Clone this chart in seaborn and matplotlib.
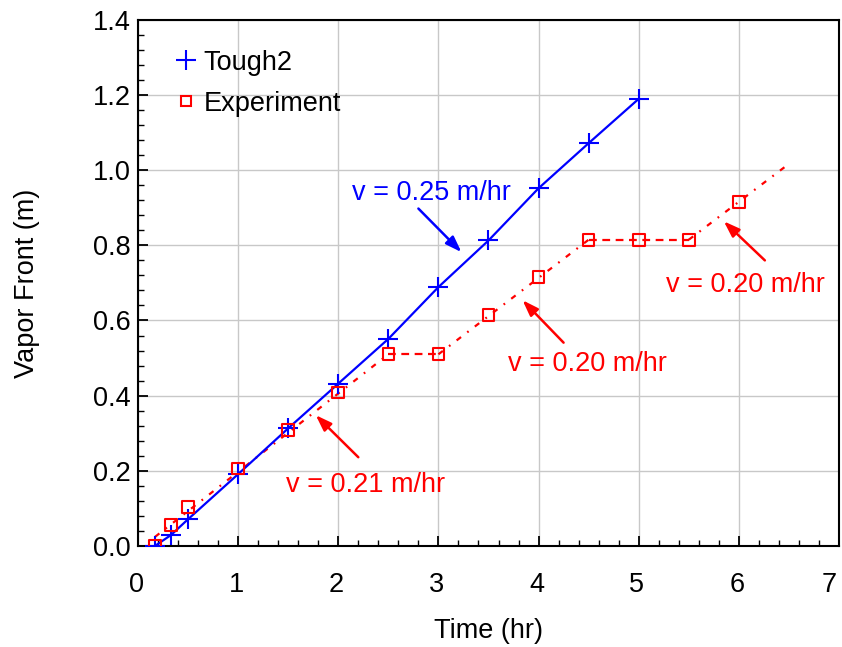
import matplotlib
matplotlib.use("Agg")
import matplotlib.pyplot as plt
from matplotlib.lines import Line2D
from matplotlib.ticker import MultipleLocator
import matplotlib.transforms as mtransforms
import seaborn as sns
import pandas as pd

# ---- data ----
tough_t = [0.17, 0.33, 0.5, 1.0, 1.5, 2.0, 2.5, 3.0, 3.5, 4.0, 4.5, 5.0]
tough_v = [0.0, 0.029, 0.071, 0.191, 0.313, 0.432, 0.551, 0.689, 0.813, 0.952, 1.072, 1.19]

exp_t = [0.17, 0.33, 0.5, 1.0, 1.5, 2.0, 2.5, 3.0, 3.5, 4.0, 4.5, 5.0, 5.5, 6.0]
exp_v = [0.0, 0.055, 0.103, 0.206, 0.308, 0.408, 0.510, 0.510, 0.615, 0.716, 0.815, 0.815, 0.815, 0.915]

# experiment trend segments: sloped (dash-dot) and plateau (dashed)
slope_segs = [([0.17, 2.5], [0.024, 0.510]),
              ([3.0, 4.5], [0.510, 0.815]),
              ([5.5, 6.5], [0.815, 1.017])]
flat_segs = [([2.5, 3.0], [0.510, 0.510]),
             ([4.5, 5.5], [0.815, 0.815])]

# annotations: text, text position, arrow tail, arrow head, colour
notes = [("v = 0.25 m/hr", (2.93, 0.94), (2.80, 0.898), (3.23, 0.782), "#0000ff"),
         ("v = 0.21 m/hr", (2.27, 0.162), (2.20, 0.236), (1.775, 0.348), "#ff0000"),
         ("v = 0.20 m/hr", (4.49, 0.483), (4.25, 0.541), (3.84, 0.654), "#ff0000"),
         ("v = 0.20 m/hr", (6.07, 0.694), (6.26, 0.760), (5.85, 0.864), "#ff0000")]

x_ticks = [0, 1, 2, 3, 4, 5, 6, 7]
y_ticks = [0.0, 0.2, 0.4, 0.6, 0.8, 1.0, 1.2, 1.4]

sns.set_theme(style="white")
plt.rcParams['font.family'] = ['Liberation Sans', 'DejaVu Sans']
plt.rcParams['text.color'] = 'black'
plt.rcParams['axes.labelcolor'] = 'black'
plt.rcParams['xtick.color'] = 'black'
plt.rcParams['ytick.color'] = 'black'

BLUE = "#0000ff"
RED = "#ff0000"
FS = 19.5

fig = plt.figure(figsize=(8.42, 6.47), dpi=100)
ax = fig.add_axes([0.1639, 0.1563, 0.8325, 0.8128])

ax.grid(True, which="major", color="#c8c8c8", linewidth=1.0)
ax.set_axisbelow(True)

df_t = pd.DataFrame({"t": tough_t, "v": tough_v})
df_e = pd.DataFrame({"t": exp_t, "v": exp_v})

sns.lineplot(data=df_t, x="t", y="v", ax=ax, color=BLUE, linewidth=1.6,
             marker="+", markersize=14, markeredgewidth=1.5, markeredgecolor=BLUE,
             estimator=None, sort=False, zorder=3)

for xs, ys in slope_segs:
    ax.plot(xs, ys, color=RED, linewidth=1.6, linestyle=(0, (2.5, 3.5, 0.8, 3.5)), zorder=2)
for xs, ys in flat_segs:
    ax.plot(xs, ys, color=RED, linewidth=1.6, linestyle=(0, (3.5, 2.5)), zorder=2)

sns.scatterplot(data=df_e, x="t", y="v", ax=ax, marker="s", s=70,
                facecolor="none", edgecolor=RED, linewidth=1.5, zorder=4)

for text, tpos, tail, head, col in notes:
    ax.annotate("", xy=head, xytext=tail,
                arrowprops=dict(arrowstyle="-|>,head_length=0.8,head_width=0.28",
                                color=col, lw=1.8, shrinkA=0, shrinkB=0))
    ax.text(tpos[0], tpos[1], text, color=col, fontsize=FS, ha="center", va="center")

ax.set_xlim(0, 7)
ax.set_ylim(0, 1.4)
ax.set_xticks(x_ticks)
ax.set_xticklabels([str(v) for v in x_ticks])
ax.set_yticks(y_ticks)
ax.set_yticklabels([f"{v:.1f}" for v in y_ticks])
ax.xaxis.set_minor_locator(MultipleLocator(0.2))
ax.yaxis.set_minor_locator(MultipleLocator(0.04))
ax.tick_params(which="major", direction="in", length=7, width=1.3, labelsize=FS,
               bottom=True, left=True, top=False, right=False, colors="black")
ax.tick_params(axis="x", which="major", pad=19)
ax.tick_params(axis="y", which="major", pad=5)
ax.tick_params(which="minor", direction="in", length=4, width=1.0,
               bottom=True, left=True, top=False, right=False)
for s in ax.spines.values():
    s.set_color("black")
    s.set_linewidth(1.5)

# nudge x tick labels slightly left like the reference
labels = ax.get_xticklabels()
for i, lab in enumerate(labels):
    dx = -10 if i == len(labels) - 1 else -2
    lab.set_transform(lab.get_transform() + mtransforms.ScaledTranslation(dx / 100, 0, fig.dpi_scale_trans))

ax.set_xlabel("Time (hr)", fontsize=FS, labelpad=14)
ax.set_ylabel("Vapor Front (m)", fontsize=FS, labelpad=38)

handles = [Line2D([], [], linestyle="none", marker="+", markersize=14, markeredgewidth=1.5, color=BLUE),
           Line2D([], [], linestyle="none", marker="s", markersize=7.5, markerfacecolor="none",
                  markeredgecolor=RED, markeredgewidth=1.5)]
ax.legend(handles, ["Tough2", "Experiment"], loc="upper left", bbox_to_anchor=(0.014, 0.99),
          frameon=False, fontsize=FS, handlelength=1.0, handletextpad=0.15,
          labelspacing=0.55, borderaxespad=0.5)

fig.savefig("out.png", dpi=100)
